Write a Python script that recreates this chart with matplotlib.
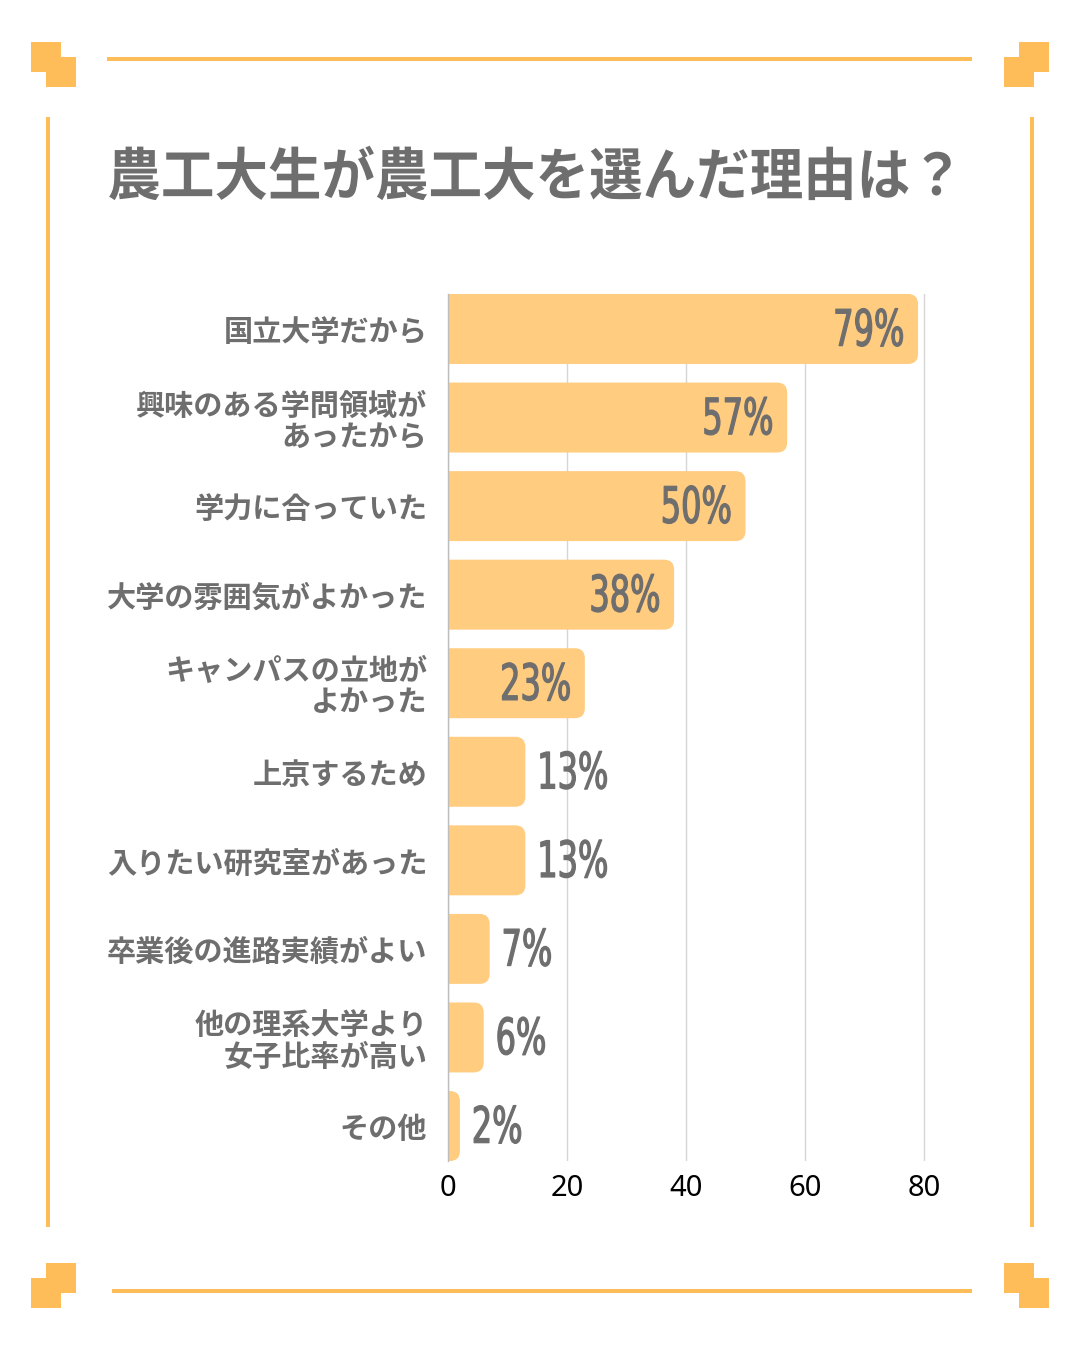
import matplotlib
matplotlib.use('Agg')
import matplotlib.pyplot as plt
from matplotlib import patheffects
from matplotlib.patches import Rectangle, PathPatch
from matplotlib.path import Path
from matplotlib.transforms import Affine2D

plt.rcParams['font.family'] = ['Noto Sans CJK JP', 'DejaVu Sans']

### data

title = '農工大生が農工大を選んだ理由は？'
reasons = ['国立大学だから', '興味のある学問領域が\nあったから', '学力に合っていた',
           '大学の雰囲気がよかった', 'キャンパスの立地が\nよかった', '上京するため',
           '入りたい研究室があった', '卒業後の進路実績がよい', '他の理系大学より\n女子比率が高い',
           'その他']
percent = [79, 57, 50, 38, 23, 13, 13, 7, 6, 2]
xticks = [0, 20, 40, 60, 80]

bar_color = '#FFCC80'
deco_color = '#FFBD59'
text_gray = '#6E6E6E'


class Squeeze(patheffects.AbstractPathEffect):
    # narrows a text horizontally around its anchor point, optional outline
    def __init__(self, sx, stroke=0):
        super().__init__()
        self.sx = sx
        self.stroke = stroke
        self.text = None

    def draw_path(self, renderer, gc, tpath, affine, rgbFace=None):
        cx = self.text.get_transform().transform(self.text.get_position())[0]
        squash = Affine2D().translate(-cx, 0).scale(self.sx, 1).translate(cx, 0)
        renderer.draw_path(gc, tpath, affine + squash, rgbFace)
        if self.stroke:
            gc0 = renderer.new_gc()
            gc0.copy_properties(gc)
            gc0.set_linewidth(self.stroke)
            gc0.set_foreground(rgbFace)
            gc0.set_joinstyle('round')
            renderer.draw_path(gc0, tpath, affine + squash, None)
            gc0.restore()


def squeezed(t, sx, stroke=0):
    pe = Squeeze(sx, stroke)
    pe.text = t
    t.set_path_effects([pe])
    return t


### figure

W, H = 1080, 1350
fig = plt.figure(figsize=(W / 100, H / 100), dpi=100)

# decoration layer in pixel coordinates
deco = fig.add_axes([0, 0, 1, 1])
deco.set_xlim(0, W)
deco.set_ylim(H, 0)
deco.axis('off')

for sx, sy in [(31, 42), (46, 57), (1019, 42), (1004, 57),
               (46, 1263), (31, 1278), (1004, 1263), (1019, 1278)]:
    deco.add_patch(Rectangle((sx, sy), 30, 30, color=deco_color, lw=0))
deco.add_patch(Rectangle((107, 57), 865, 4, color=deco_color, lw=0))
deco.add_patch(Rectangle((112, 1289), 860, 4, color=deco_color, lw=0))
deco.add_patch(Rectangle((46, 117), 4, 1110, color=deco_color, lw=0))
deco.add_patch(Rectangle((1030, 117), 4, 1110, color=deco_color, lw=0))

t = deco.text(536, 178, title, ha='center', va='center', fontsize=41,
              fontweight='bold', color=text_gray)
squeezed(t, 0.94)

### bar chart

xmax = 80.3
px_per_unit = 5.95
ax_left, ax_top, ax_bottom = 448, 294, 1161
ax_w = xmax * px_per_unit
ax = fig.add_axes([ax_left / W, 1 - ax_bottom / H, ax_w / W, (ax_bottom - ax_top) / H])

n = len(reasons)
bh = 0.79
ax.set_xlim(0, xmax)
ax.set_ylim(n - 1 + bh / 2, -bh / 2)

# radius of the rounded right end (about 10 px)
rx = 10 / px_per_unit
ry = 10 / ((ax_bottom - ax_top) / (n - 1 + bh))

for i, v in enumerate(percent):
    y0, y1 = i - bh / 2, i + bh / 2
    r = min(rx, v)
    verts = [(0, y0), (v - r, y0), (v, y0), (v, y0 + ry), (v, y1 - ry),
             (v, y1), (v - r, y1), (0, y1), (0, y0)]
    codes = [Path.MOVETO, Path.LINETO, Path.CURVE3, Path.CURVE3, Path.LINETO,
             Path.CURVE3, Path.CURVE3, Path.LINETO, Path.CLOSEPOLY]
    ax.add_patch(PathPatch(Path(verts, codes), facecolor=bar_color, edgecolor='none', zorder=2))

    lab = f'{v}%'
    if v >= 20:
        t = ax.text(v - 2.3, i + 0.03, lab, ha='right', va='center', fontsize=36,
                    family='DejaVu Sans', color=text_gray, zorder=3)
    else:
        t = ax.text(v + 2.0, i + 0.03, lab, ha='left', va='center', fontsize=36,
                    family='DejaVu Sans', color=text_gray, zorder=3)
    squeezed(t, 0.64, stroke=0.9)

ax.set_yticks(range(n))
ax.set_yticklabels(reasons, fontsize=21, fontweight='bold', color=text_gray,
                   linespacing=1.05, multialignment='right')
ax.set_xticks(xticks)
ax.set_xticklabels([str(t) for t in xticks], fontsize=21,
                   family=['Noto Sans', 'DejaVu Sans'], color='black')
ax.tick_params(axis='y', length=0, pad=15)
ax.tick_params(axis='x', length=0, pad=9)

ax.xaxis.grid(True, color='#D6D6D6', lw=1)
ax.set_axisbelow(True)
for s in ['top', 'right', 'bottom']:
    ax.spines[s].set_visible(False)
ax.spines['left'].set_color('#BDBDBD')
ax.spines['left'].set_linewidth(1)
ax.patch.set_alpha(0)

fig.savefig('out.png', dpi=100, facecolor='white')
